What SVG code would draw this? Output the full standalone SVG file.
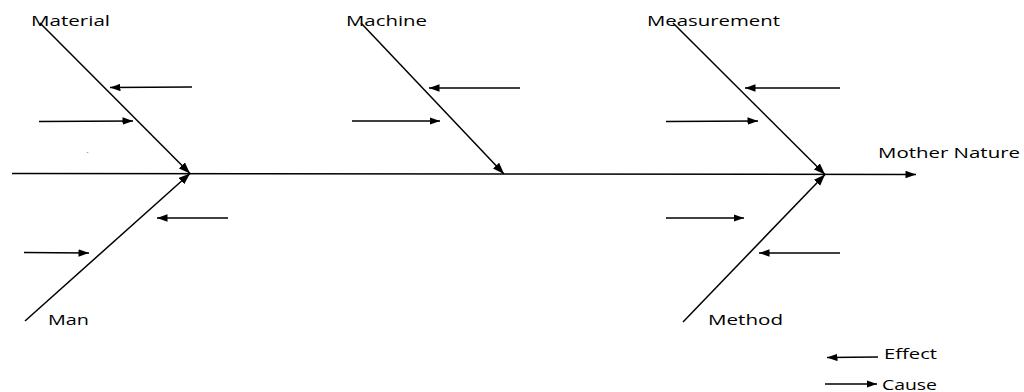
<svg xmlns="http://www.w3.org/2000/svg" width="1024" height="392" viewBox="0 0 1024 392">
<style>
  .ln{stroke:#000;stroke-width:1.5;fill:none}
  .ar{marker-end:url(#ah)}
  .bn{marker-end:url(#bh)}
  text{font-family:"Open Sans","DejaVu Sans",sans-serif;font-size:14px;fill:#000}
</style>
<defs>
  <marker id="ah" markerUnits="userSpaceOnUse" markerWidth="11" markerHeight="8" refX="10.5" refY="3.75" orient="auto">
    <path d="M0,0 L10.5,3.75 L0,7.5 z" fill="#000"/>
  </marker>
  <marker id="bh" markerUnits="userSpaceOnUse" markerWidth="12" markerHeight="9" refX="11.5" refY="4.25" orient="auto">
    <path d="M0,0 L11.5,4.25 L0,8.5 z" fill="#000"/>
  </marker>
</defs>
<rect width="1024" height="392" fill="#fff"/>
<g id="connectors">
  <path class="ln ar" d="M12,173.5 L916,174.5"/>
  <!-- bones -->
  <path class="ln bn" d="M40,23 L190,173.5"/>
  <path class="ln bn" d="M25,321 L190,173.5"/>
  <path class="ln bn" d="M361,23 L504,174"/>
  <path class="ln bn" d="M673,23 L825,174.5"/>
  <path class="ln bn" d="M683,322 L825,174.5"/>
  <!-- material -->
  <path class="ln ar" d="M192,87 L110,87.5"/>
  <path class="ln ar" d="M39,121.5 L133,121"/>
  <!-- man -->
  <path class="ln ar" d="M228,218 L157,218"/>
  <path class="ln ar" d="M24,252.5 L89,253"/>
  <!-- machine -->
  <path class="ln ar" d="M520,88 L429,88"/>
  <path class="ln ar" d="M352,121 L440,121"/>
  <!-- measurement -->
  <path class="ln ar" d="M840,88 L745,88"/>
  <path class="ln ar" d="M666,121.5 L758,121"/>
  <!-- method -->
  <path class="ln ar" d="M666,218 L744,218"/>
  <path class="ln ar" d="M840,253 L759,253"/>
  <!-- legend -->
  <path class="ln ar" d="M878,357 L827,357.5"/>
  <path class="ln ar" d="M825,384 L877,384"/>
</g>
<g id="material"><text x="31" y="25.5" textLength="79" lengthAdjust="spacingAndGlyphs">Material</text></g>
<g id="machine"><text x="346" y="25.5" textLength="81" lengthAdjust="spacingAndGlyphs">Machine</text></g>
<g id="measurement"><text x="647" y="25.5" textLength="133" lengthAdjust="spacingAndGlyphs">Measurement</text></g>
<g id="man"><text x="48" y="324.5" textLength="41" lengthAdjust="spacingAndGlyphs">Man</text></g>
<g id="method"><text x="708" y="324.5" textLength="75" lengthAdjust="spacingAndGlyphs">Method</text></g>
<g id="mother-nature"><text x="878" y="157.5" textLength="142" lengthAdjust="spacingAndGlyphs">Mother Nature</text></g>
<g id="legend-effect"><text x="884" y="358.5" textLength="53" lengthAdjust="spacingAndGlyphs">Effect</text></g>
<g id="legend-cause"><text x="882" y="390" textLength="55" lengthAdjust="spacingAndGlyphs">Cause</text></g>
<text x="86.5" y="154" style="font-size:6px">-</text>
</svg>
